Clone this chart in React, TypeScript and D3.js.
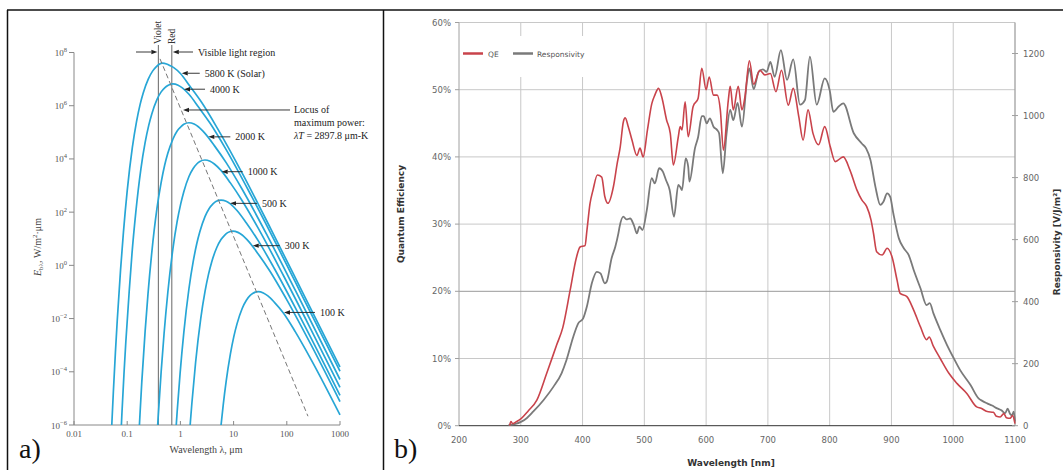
import React from "react";
import * as d3 from "d3";

type Pt = [number, number];

// ---- panel a: blackbody curves, [wavelength µm, log10 E (W/m²·µm)] ----
const bb5800: Pt[] = [[0.05,-6.48],[0.055,-4.73],[0.06,-3.28],[0.065,-2.07],[0.075,-0.17],[0.085,1.25],[0.1,2.8],[0.125,4.43],[0.15,5.41],[0.175,6.05],[0.2,6.48],[0.25,7.01],[0.3,7.3],[0.35,7.46],[0.4,7.56],[0.46,7.6],[0.55,7.57],[0.65,7.5],[0.75,7.43],[1,7.21],[1.5,6.74],[2.5,6.13],[5,5.14],[15,3.41],[50,1.37],[200,-1.03],[1000,-3.82]];
const bb4000: Pt[] = [[0.0725,-7.29],[0.0797,-5.54],[0.0869,-4.09],[0.0942,-2.88],[0.109,-0.98],[0.123,0.44],[0.145,1.99],[0.181,3.63],[0.217,4.61],[0.254,5.26],[0.29,5.69],[0.362,6.23],[0.435,6.52],[0.507,6.67],[0.58,6.76],[0.72,6.82],[0.906,6.77],[1.087,6.67],[1.449,6.43],[2.17,5.96],[3.62,5.34],[7.245,4.35],[21.7,2.6],[72.45,0.57],[200,-1.19],[1000,-3.98]];
const bb2000: Pt[] = [[0.159,-7.05],[0.174,-5.6],[0.188,-4.39],[0.217,-2.49],[0.246,-1.07],[0.29,0.49],[0.362,2.13],[0.435,3.12],[0.507,3.77],[0.58,4.21],[0.725,4.75],[0.869,5.05],[1.014,5.2],[1.159,5.3],[1.449,5.36],[1.811,5.31],[2.174,5.21],[2.898,4.96],[4.347,4.5],[7.245,3.86],[14.49,2.86],[43.5,1.1],[144.9,-0.94],[1000,-4.29]];
const bb1000: Pt[] = [[0.348,-7.1],[0.377,-5.89],[0.435,-3.99],[0.493,-2.57],[0.58,-1.02],[0.725,0.64],[0.869,1.65],[1.014,2.31],[1.159,2.77],[1.449,3.34],[1.739,3.64],[2.029,3.81],[2.318,3.9],[2.898,3.96],[3.62,3.91],[4.347,3.81],[5.796,3.57],[8.694,3.1],[14.49,2.43],[28.98,1.4],[86.9,-0.39],[289.8,-2.44],[1000,-4.59]];
const bb500: Pt[] = [[0.753,-7.4],[0.811,-6.38],[0.869,-5.5],[0.985,-4.08],[1.159,-2.53],[1.449,-0.87],[1.739,0.14],[2.029,0.81],[2.318,1.26],[2.898,1.83],[3.478,2.14],[4.057,2.3],[4.637,2.4],[5.796,2.45],[7.245,2.41],[8.694,2.31],[11.59,2.06],[17.39,1.59],[28.98,0.93],[57.96,-0.11],[173.9,-1.9],[1000,-4.89]];
const bb300: Pt[] = [[1.449,-6.61],[1.545,-5.85],[1.642,-5.19],[1.932,-3.64],[2.415,-1.99],[2.898,-0.99],[3.381,-0.33],[3.864,0.12],[4.83,0.67],[5.795,0.97],[6.761,1.13],[7.727,1.23],[9.659,1.29],[12.07,1.24],[14.49,1.14],[19.32,0.89],[28.98,0.43],[48.3,-0.22],[96.59,-1.24],[289.8,-3.01],[1000,-5.12]];
const bb100: Pt[] = [[5.216,-6.99],[5.796,-6.02],[6.376,-5.25],[7.245,-4.36],[8.694,-3.34],[10.14,-2.66],[11.59,-2.2],[14.49,-1.62],[17.39,-1.31],[20.29,-1.14],[23.18,-1.05],[28.98,-0.99],[36.2,-1.04],[43.5,-1.14],[57.96,-1.38],[86.94,-1.8],[144.9,-2.5],[289.8,-3.56],[1000,-5.62]];
const bbCurves = [bb5800, bb4000, bb2000, bb1000, bb500, bb300, bb100];

const bbLabels = ["5800 K (Solar)", "4000 K", "2000 K", "1000 K", "500 K", "300 K", "100 K"];
const bbLabelTips: Pt[] = [[1.06,7.22],[1.17,6.62],[3.35,4.83],[5.97,3.52],[8.55,2.33],[22.9,0.74],[88.5,-1.77]];
const bbLabelLen = [18, 21, 22, 21, 27, 27, 31];

const locusLine: Pt[] = [[0.414, 7.76], [250, -5.67]];
const locusTip: Pt = [1.12, 5.84];
const violetRed = [0.385, 0.69];

const eTicks = [-6, -4, -2, 0, 2, 4, 6, 8];
const lambdaTicks = [0.01, 0.1, 1, 10, 100, 1000];
const lambdaLabels = ["0.01", "0.1", "1", "10", "100", "1000"];

// ---- panel b: QE (%) and responsivity (V/J/m²) vs wavelength (nm) ----
const qe: Pt[] = [[282,0],[284,0.6],[287,0.3],[293,0.6],[301,1.1],[312,2.2],[326,3.8],[342,7.8],[358,12],[368,14.6],[380,20.2],[390,25],[396,26.6],[404,26.8],[407,29],[412,33],[417,35.1],[424,37.3],[431,37],[436,34.1],[441,33.1],[450,35.6],[456,39],[461,41.5],[466,45.2],[469,45.8],[474,44.5],[480,42.5],[488,40.2],[493,41.3],[498,40],[505,44],[512,47.9],[517,49.2],[523,50.2],[528,49],[536,45.5],[542,43.5],[547,38.8],[555,43],[558,44.5],[561,44],[566,48.2],[571,43],[579,47.5],[587,48.7],[593,53.2],[600,50],[605,51.9],[612,49.2],[618,49.2],[623,47],[628,41],[636,48.5],[639,50.5],[644,47],[652,50.5],[658,47],[663,49],[670,54.3],[677,50.8],[687,52.9],[695,52.2],[704,52.4],[713,49.7],[722,52.9],[733,47.7],[741,50.2],[750,46],[757,42.5],[765,47],[773,43.5],[782,41.8],[792,44.5],[801,41.5],[809,39.3],[822,40],[833,38],[844,35.1],[852,33.6],[860,32.6],[867,30.6],[871,28.6],[876,25.9],[885,25.4],[893,26.4],[901,25.1],[909,21.7],[914,19.7],[925,19.2],[936,17.2],[947,14.7],[957,12.8],[961,13.2],[968,11.8],[979,10],[993,7.8],[1006,6.3],[1022,4.8],[1038,2.8],[1045,2.6],[1055,2.1],[1065,2],[1070,1.4],[1076,1.3],[1082,1.8],[1086,1.2],[1092,1.1],[1096,1.5],[1100,0.3]];
const responsivity: Pt[] = [[280,2],[290,5],[301,13],[310,25],[320,45],[337,83],[353,126],[366,169],[374,212],[385,287],[393,330],[401,346],[407,384],[415,459],[423,496],[429,491],[436,459],[439,464],[447,540],[453,577],[458,620],[460,642],[466,674],[471,665],[477,668],[483,647],[488,620],[492,642],[497,631],[504,695],[512,798],[517,781],[524,830],[530,819],[535,792],[541,760],[548,674],[555,776],[558,770],[561,760],[567,862],[571,835],[573,787],[582,895],[587,930],[593,998],[596,998],[601,975],[606,991],[612,964],[618,953],[621,943],[627,814],[633,940],[639,1018],[644,985],[651,1041],[658,964],[666,1110],[670,1152],[677,1085],[685,1141],[692,1149],[698,1141],[704,1173],[711,1125],[721,1211],[731,1115],[741,1181],[752,1035],[760,1050],[768,1190],[779,1035],[792,1120],[800,1082],[806,1012],[815,1030],[822,1039],[839,943],[852,910],[859,894],[866,857],[874,771],[882,712],[887,722],[893,749],[898,738],[903,685],[912,604],[920,572],[928,550],[936,502],[947,443],[957,389],[962,395],[968,362],[979,309],[990,260],[1001,217],[1011,180],[1028,131],[1041,88],[1047,80],[1055,72],[1063,65],[1071,56],[1078,50],[1084,40],[1088,55],[1092,38],[1095,34],[1098,45],[1100,13]];

const nmTicks = [200, 300, 400, 500, 600, 700, 800, 900, 1000, 1100];
const qeTicks = [0, 10, 20, 30, 40, 50, 60];
const respTicks = [0, 200, 400, 600, 800, 1000, 1200];

const SERIF = "'Liberation Serif', 'DejaVu Serif', serif";
const SANS = "'DejaVu Sans', Verdana, sans-serif";

const Arrow = ({ x1, x2, y }: { x1: number; x2: number; y: number }) => {
  const dir = x2 > x1 ? 1 : -1;
  const hl = 6;
  const hw = 2.2;
  return (
    <g>
      <line x1={x1} y1={y} x2={x2 - dir * hl} y2={y} stroke="#222" strokeWidth={0.9} />
      <path d={`M${x2},${y}L${x2 - dir * hl},${y - hw}L${x2 - dir * hl},${y + hw}Z`} fill="#222" />
    </g>
  );
};

const PanelA = () => {
  const x = d3.scaleLog().domain([0.01, 1000]).range([74, 340]);
  const y = d3.scaleLog().domain([1e-6, 1e8]).range([425, 52.5]);
  const line = d3
    .line<Pt>()
    .x((d) => x(d[0]))
    .y((d) => y(10 ** d[1]))
    .curve(d3.curveMonotoneX);

  return (
    <g fontFamily={SERIF}>
      <defs>
        <clipPath id="clipA">
          <rect x={74} y={40} width={268} height={385} />
        </clipPath>
      </defs>

      {/* axes */}
      <line x1={74} x2={74} y1={y(1e8)} y2={y(1e-6)} stroke="#888" />
      <line x1={74} x2={340} y1={y(1e-6)} y2={y(1e-6)} stroke="#888" />
      {eTicks.map((e) => (
        <g key={e}>
          <line x1={69} x2={74} y1={y(10 ** e)} y2={y(10 ** e)} stroke="#888" />
          <text x={67} y={y(10 ** e) + 3.5} textAnchor="end" fontSize={9} fill="#555">
            10<tspan dy={-4} fontSize={6.5}>{e < 0 ? "\u2212" + -e : e}</tspan>
          </text>
        </g>
      ))}
      {lambdaTicks.map((t, i) => (
        <g key={t}>
          <line x1={x(t)} x2={x(t)} y1={425} y2={421} stroke="#888" />
          <text x={x(t)} y={437} textAnchor="middle" fontSize={9} fill="#555">
            {lambdaLabels[i]}
          </text>
        </g>
      ))}
      <text x={206} y={453} textAnchor="middle" fontSize={10} fill="#444">
        Wavelength λ, μm
      </text>
      <text transform="translate(41,247) rotate(-90)" textAnchor="middle" fontSize={10} fill="#444">
        <tspan fontStyle="italic">E</tspan>
        <tspan fontSize={7} dy={2}>bλ</tspan>
        <tspan dy={-2}>, W/m</tspan>
        <tspan fontSize={7} dy={-4}>2</tspan>
        <tspan dy={4}>·μm</tspan>
      </text>

      {/* visible light region */}
      {violetRed.map((v) => (
        <line key={v} x1={x(v)} x2={x(v)} y1={45} y2={425} stroke="#666" strokeWidth={1} />
      ))}
      <text transform={`translate(${x(violetRed[0]) + 3},44) rotate(-90)`} fontSize={9.5} fill="#333">
        Violet
      </text>
      <text transform={`translate(${x(violetRed[1]) + 3},44) rotate(-90)`} fontSize={9.5} fill="#333">
        Red
      </text>
      <Arrow x1={136} x2={x(violetRed[0]) - 1} y={52} />
      <Arrow x1={193} x2={x(violetRed[1]) + 1} y={52} />
      <text x={198} y={55.5} fontSize={10} fill="#222">
        Visible light region
      </text>

      {/* curves */}
      <g clipPath="url(#clipA)">
        {bbCurves.map((c, i) => (
          <path key={i} d={line(c) ?? ""} fill="none" stroke="#27a6d6" strokeWidth={1.7} />
        ))}
        <path
          d={`M${x(locusLine[0][0])},${y(10 ** locusLine[0][1])}L${x(locusLine[1][0])},${y(10 ** locusLine[1][1])}`}
          stroke="#777"
          strokeWidth={1}
          strokeDasharray="5,3"
          fill="none"
        />
      </g>

      {/* curve labels */}
      {bbLabels.map((lab, i) => {
        const tx = x(bbLabelTips[i][0]);
        const ty = y(10 ** bbLabelTips[i][1]);
        return (
          <g key={lab}>
            <Arrow x1={tx + bbLabelLen[i]} x2={tx} y={ty} />
            <text x={tx + bbLabelLen[i] + 5} y={ty + 3.5} fontSize={10} fill="#222">
              {lab}
            </text>
          </g>
        );
      })}
      {(() => {
        const tx = x(locusTip[0]);
        const ty = y(10 ** locusTip[1]);
        return (
          <g>
            <Arrow x1={tx + 107} x2={tx} y={ty} />
            <text x={tx + 111} y={ty + 3.5} fontSize={10} fill="#222">
              <tspan x={tx + 111}>Locus of</tspan>
              <tspan x={tx + 111} dy={13}>maximum power:</tspan>
              <tspan x={tx + 111} dy={13}>
                <tspan fontStyle="italic">λT</tspan> = 2897.8 μm-K
              </tspan>
            </text>
          </g>
        );
      })()}

      <text x={19} y={458} fontSize={28} fill="#111">
        a)
      </text>
    </g>
  );
};

const PanelB = () => {
  const x = d3.scaleLinear().domain([200, 1100]).range([459, 1015]);
  const yq = d3.scaleLinear().domain([0, 60]).range([425.7, 22.5]);
  const yr = d3.scaleLinear().domain([0, 1300]).range([425.7, 22.5]);
  const qeLine = d3
    .line<Pt>()
    .x((d) => x(d[0]))
    .y((d) => yq(d[1]))
    .curve(d3.curveMonotoneX);
  const rLine = d3
    .line<Pt>()
    .x((d) => x(d[0]))
    .y((d) => yr(d[1]))
    .curve(d3.curveMonotoneX);

  return (
    <g fontFamily={SANS}>
      {/* grid */}
      {nmTicks.slice(1, -1).map((t) => (
        <line key={t} x1={x(t)} x2={x(t)} y1={yq(60)} y2={yq(0)} stroke="#c8c8c8" />
      ))}
      {qeTicks.slice(1).map((t) => (
        <line key={t} x1={x(200)} x2={x(1100)} y1={yq(t)} y2={yq(t)} stroke={t === 20 ? "#999" : "#c8c8c8"} />
      ))}
      {/* legend background */}
      <rect x={461} y={36} width={139} height={41} fill="#fff" />

      {/* axes */}
      <line x1={x(200)} x2={x(200)} y1={yq(60)} y2={yq(0)} stroke="#a0a0a0" />
      <line x1={x(1100)} x2={x(1100)} y1={yq(60)} y2={yq(0)} stroke="#a0a0a0" strokeWidth={1.3} />
      <line x1={x(200)} x2={x(1100)} y1={yq(0)} y2={yq(0)} stroke="#333" />
      {qeTicks.map((t) => (
        <g key={t}>
          <line x1={455} x2={459} y1={yq(t)} y2={yq(t)} stroke="#a0a0a0" />
          <text x={451} y={yq(t) + 3} textAnchor="end" fontSize={8.5} fill="#666">
            {t}%
          </text>
        </g>
      ))}
      {respTicks.map((t) => (
        <g key={t}>
          <line x1={1012} x2={1018} y1={yr(t)} y2={yr(t)} stroke="#a0a0a0" />
          <text x={1023} y={yr(t) + 3} fontSize={8.5} fill="#666">
            {t}
          </text>
        </g>
      ))}
      {nmTicks.map((t) => (
        <text key={t} x={x(t)} y={443} textAnchor="middle" fontSize={8.5} fill="#666">
          {t}
        </text>
      ))}
      <text x={731} y={466} textAnchor="middle" fontSize={9} fontWeight="bold" fill="#333">
        Wavelength [nm]
      </text>
      <text transform="translate(404,214) rotate(-90)" textAnchor="middle" fontSize={9} fontWeight="bold" fill="#333">
        Quantum Efficiency
      </text>
      <text transform="translate(1060,242) rotate(-90)" textAnchor="middle" fontSize={9} fontWeight="bold" fill="#333">
        Responsivity [V/J/m²]
      </text>

      {/* series */}
      <path d={rLine(responsivity) ?? ""} fill="none" stroke="#7a7a7a" strokeWidth={1.8} />
      <path d={qeLine(qe) ?? ""} fill="none" stroke="#c9434b" strokeWidth={1.6} />

      {/* legend */}
      <line x1={463} x2={483} y1={53.5} y2={53.5} stroke="#c9434b" strokeWidth={2.5} />
      <text x={488} y={56.5} fontSize={7.5} fill="#555">QE</text>
      <line x1={513} x2={533} y1={53.5} y2={53.5} stroke="#7a7a7a" strokeWidth={2.5} />
      <text x={537} y={56.5} fontSize={7.5} fill="#555">Responsivity</text>

      <text x={394} y={458} fontSize={28} fontFamily={SERIF} fill="#111">
        b)
      </text>
    </g>
  );
};

export default function App() {
  return (
    <svg
      width={1063}
      height={470}
      style={{ position: "absolute", left: 0, top: 0, background: "#fff" }}
    >
      <rect x={0} y={0} width={1063} height={470} fill="#fff" />
      {/* frame */}
      <line x1={7} x2={1063} y1={10} y2={10} stroke="#111" strokeWidth={1.5} />
      <line x1={7.5} x2={7.5} y1={10} y2={470} stroke="#111" strokeWidth={1.5} />
      <line x1={383.5} x2={383.5} y1={10} y2={470} stroke="#111" strokeWidth={1.5} />
      <PanelA />
      <PanelB />
    </svg>
  );
}
